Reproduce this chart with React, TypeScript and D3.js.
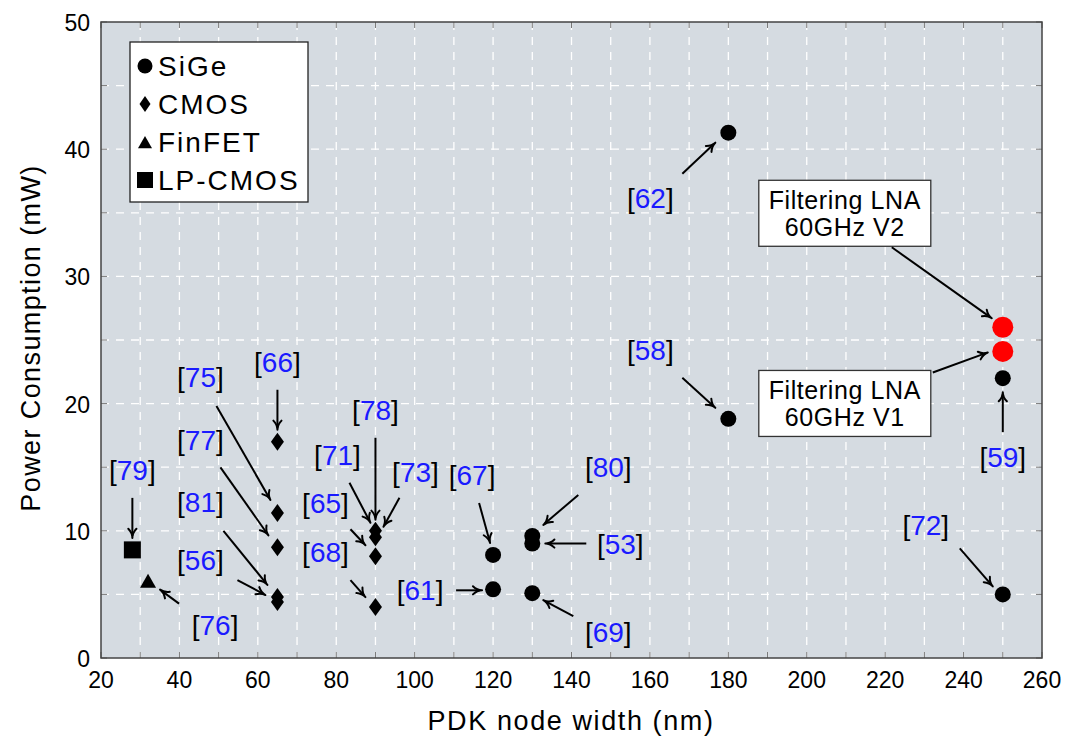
import React from "react";
import * as d3 from "d3";

// ---- data ----
const sigeNodes = [180, 180, 250, 250, 120, 120, 130, 130, 130];
const sigePower = [41.3, 18.8, 22, 5, 8.1, 5.4, 9.6, 9.0, 5.1];
const cmosNodes = [65, 65, 65, 65, 65, 90, 90, 90, 90];
const cmosPower = [17, 11.4, 8.7, 4.8, 4.4, 10, 9.5, 8, 4];
const finfetNodes = [32];
const finfetPower = [6];
const lpcmosNodes = [28];
const lpcmosPower = [8.5];
const thisWorkNodes = [250, 250];
const thisWorkPower = [26, 24.1];
const thisWorkLabels = [["Filtering LNA", "60GHz V2"], ["Filtering LNA", "60GHz V1"]];
const xTicks = [20, 40, 60, 80, 100, 120, 140, 160, 180, 200, 220, 240, 260];
const yTicks = [0, 10, 20, 30, 40, 50];
const legendItems = ["SiGe", "CMOS", "FinFET", "LP-CMOS"];

// reference annotations: series, index, label offset, arrow from, arrow to (px relative to point)
const refs: [string, string, number, number[], number[], number[]][] = [
  ["62", "s", 0, [-78, 65], [-46, 41], [-13, 10]],
  ["58", "s", 1, [-78, -69], [-46, -41], [-13, -11]],
  ["59", "s", 2, [0, 79], [0, 54], [0, 14]],
  ["72", "s", 3, [-77, -69], [-43, -46], [-10, -8]],
  ["67", "s", 4, [-21, -80], [-14, -52], [-3, -12]],
  ["61", "s", 5, [-73, 1], [-37, 1], [-11, 1]],
  ["80", "s", 6, [76, -69], [46, -41], [11, -11]],
  ["53", "s", 7, [88, 0], [54, 0], [13, 0]],
  ["69", "s", 8, [76, 39], [41, 23], [11, 7]],
  ["66", "c", 0, [0, -80], [0, -52], [0, -12]],
  ["75", "c", 1, [-77, -136], [-61, -107], [-7, -13]],
  ["77", "c", 2, [-77, -107], [-57, -80], [-9, -12]],
  ["81", "c", 3, [-77, -95], [-54, -66], [-10, -12]],
  ["56", "c", 4, [-77, -42], [-40, -22], [-12, -7]],
  ["78", "c", 5, [0, -121], [0, -93], [0, -11]],
  ["71", "c", 5, [-38, -76], [-26, -48], [-5, -8]],
  ["73", "c", 5, [40, -59], [24, -33], [8, -4]],
  ["65", "c", 7, [-50, -53], [-25, -27], [-10, -11]],
  ["68", "c", 8, [-50, -55], [-25, -27], [-10, -10]],
  ["76", "f", 0, [67, 43], [31, 22], [12, 8]],
  ["79", "l", 0, [0, -80], [0, -52], [0, -12]],
];
const boxAnn: [number, number[], number[], number[]][] = [
  [0, [-158, -114], [-111, -80], [-11, -9]],
  [1, [-158, 52], [-70, 21], [-15, 1]],
];

const W = 1065, H = 740;
const L = 101, R = 1042, T = 22, B = 658;
const FONT = "'Liberation Sans', Arial, sans-serif";

export default function App() {
  const x = d3.scaleLinear().domain([20, 260]).range([L, R]);
  const y = d3.scaleLinear().domain([0, 50]).range([B, T]);
  const xGrid = d3.range(30, 260, 10);
  const yGrid = d3.range(5, 50, 5);

  const pts: Record<string, [number, number][]> = {
    s: sigeNodes.map((n, i) => [x(n), y(sigePower[i])]),
    c: cmosNodes.map((n, i) => [x(n), y(cmosPower[i])]),
    f: finfetNodes.map((n, i) => [x(n), y(finfetPower[i])]),
    l: lpcmosNodes.map((n, i) => [x(n), y(lpcmosPower[i])]),
    t: thisWorkNodes.map((n, i) => [x(n), y(thisWorkPower[i])]),
  };

  const diamond = (cx: number, cy: number, w = 6.5, h = 9) =>
    `M${cx},${cy - h}L${cx + w},${cy}L${cx},${cy + h}L${cx - w},${cy}Z`;
  const tri = (cx: number, cy: number, s = 8) =>
    `M${cx},${cy - s}L${cx + s},${cy + s * 0.75}L${cx - s},${cy + s * 0.75}Z`;

  const arrow = (x1: number, y1: number, x2: number, y2: number, key: string) => {
    const a = Math.atan2(y2 - y1, x2 - x1);
    const len = 10, wid = 0.42;
    const p1 = [x2 - len * Math.cos(a - wid), y2 - len * Math.sin(a - wid)];
    const p2 = [x2 - len * Math.cos(a + wid), y2 - len * Math.sin(a + wid)];
    return (
      <g key={key}>
        <line x1={x1} y1={y1} x2={x2 - 2 * Math.cos(a)} y2={y2 - 2 * Math.sin(a)} stroke="#000" strokeWidth={2} />
        <path d={`M${p1[0]},${p1[1]}Q${x2 - 5 * Math.cos(a)},${y2 - 5 * Math.sin(a)} ${x2},${y2}Q${x2 - 5 * Math.cos(a)},${y2 - 5 * Math.sin(a)} ${p2[0]},${p2[1]}`}
          fill="none" stroke="#000" strokeWidth={2} strokeLinecap="round" strokeLinejoin="round" />
      </g>
    );
  };

  return (
    <svg width={W} height={H} style={{ position: "absolute", left: 0, top: 0, background: "#fff" }} fontFamily={FONT}>
      <rect x={L} y={T} width={R - L} height={B - T} fill="#d5dbe1" />
      {xGrid.map((g) => (
        <line key={"xg" + g} x1={x(g)} x2={x(g)} y1={T} y2={B} stroke="#fff" strokeWidth={1.3} strokeDasharray="8,7" />
      ))}
      {yGrid.map((g) => (
        <line key={"yg" + g} x1={L} x2={R} y1={y(g)} y2={y(g)} stroke="#fff" strokeWidth={1.3} strokeDasharray="8,7" />
      ))}
      {d3.range(20, 261, 10).map((g) => (
        <g key={"xt" + g}>
          <line x1={x(g)} x2={x(g)} y1={B} y2={B - 6} stroke="#777" strokeWidth={1} />
          <line x1={x(g)} x2={x(g)} y1={T} y2={T + 6} stroke="#777" strokeWidth={1} />
        </g>
      ))}
      {d3.range(0, 51, 5).map((g) => (
        <g key={"yt" + g}>
          <line x1={L} x2={L + 6} y1={y(g)} y2={y(g)} stroke="#777" strokeWidth={1} />
          <line x1={R} x2={R - 6} y1={y(g)} y2={y(g)} stroke="#777" strokeWidth={1} />
        </g>
      ))}
      <rect x={L} y={T} width={R - L} height={B - T} fill="none" stroke="#444" strokeWidth={1.5} />

      {xTicks.map((t) => (
        <text key={"xl" + t} x={x(t)} y={B + 30} textAnchor="middle" fontSize={23}>{t}</text>
      ))}
      {yTicks.map((t) => (
        <text key={"yl" + t} x={90} y={y(t) + 9} textAnchor="end" fontSize={23}>{t}</text>
      ))}
      <text x={571} y={730} textAnchor="middle" fontSize={27} letterSpacing={1.6}>PDK node width (nm)</text>
      <text transform={`translate(40,${(T + B) / 2 - 2}) rotate(-90)`} textAnchor="middle" fontSize={27} letterSpacing={1.4}>Power Consumption (mW)</text>

      {/* arrows and labels */}
      {refs.map(([lab, s, i, lo, fr, to]) => {
        const [px, py] = pts[s][i];
        return (
          <g key={"r" + lab}>
            {arrow(px + fr[0], py + fr[1], px + to[0], py + to[1], "a" + lab)}
            <text x={px + lo[0]} y={py + lo[1] + 10} textAnchor="middle" fontSize={28}>
              <tspan fill="#000">[</tspan><tspan fill="#1a1aff">{lab}</tspan><tspan fill="#000">]</tspan>
            </text>
          </g>
        );
      })}
      {boxAnn.map(([i, c, fr, to]) => {
        const [px, py] = pts.t[i];
        const cx = px + c[0], cy = py + c[1];
        return (
          <g key={"b" + i}>
            <rect x={cx - 86} y={cy - 33} width={172} height={66} fill="#fff" stroke="#333" strokeWidth={1.3} />
            <text x={cx} y={cy - 4} textAnchor="middle" fontSize={25} letterSpacing={0.6}>{thisWorkLabels[i][0]}</text>
            <text x={cx} y={cy + 23} textAnchor="middle" fontSize={25} letterSpacing={0.6}>{thisWorkLabels[i][1]}</text>
            {arrow(px + fr[0], py + fr[1], px + to[0], py + to[1], "ba" + i)}
          </g>
        );
      })}

      {/* marks */}
      {pts.s.map(([cx, cy], i) => <circle key={"s" + i} cx={cx} cy={cy} r={8} fill="#000" />)}
      {pts.c.map(([cx, cy], i) => <path key={"c" + i} d={diamond(cx, cy)} fill="#000" />)}
      {pts.f.map(([cx, cy], i) => <path key={"f" + i} d={tri(cx, cy)} fill="#000" />)}
      {pts.l.map(([cx, cy], i) => <rect key={"l" + i} x={cx - 8.5} y={cy - 8.5} width={17} height={17} fill="#000" />)}
      {pts.t.map(([cx, cy], i) => <circle key={"t" + i} cx={cx} cy={cy} r={10.5} fill="#ff0000" />)}

      {/* legend */}
      <rect x={130} y={42} width={178} height={160} fill="#fff" stroke="#222" strokeWidth={1.3} />
      {legendItems.map((it, i) => {
        const cy = 66 + i * 38;
        const sx = 145;
        let sym;
        if (i === 0) sym = <circle cx={sx} cy={cy} r={7.5} fill="#000" />;
        else if (i === 1) sym = <path d={diamond(sx, cy, 5.5, 8)} fill="#000" />;
        else if (i === 2) sym = <path d={tri(sx, cy + 1, 7)} fill="#000" />;
        else sym = <rect x={sx - 8} y={cy - 8} width={16} height={16} fill="#000" />;
        return (
          <g key={"lg" + i}>
            {sym}
            <text x={158} y={cy + 10} fontSize={28} letterSpacing={2}>{it}</text>
          </g>
        );
      })}
    </svg>
  );
}
